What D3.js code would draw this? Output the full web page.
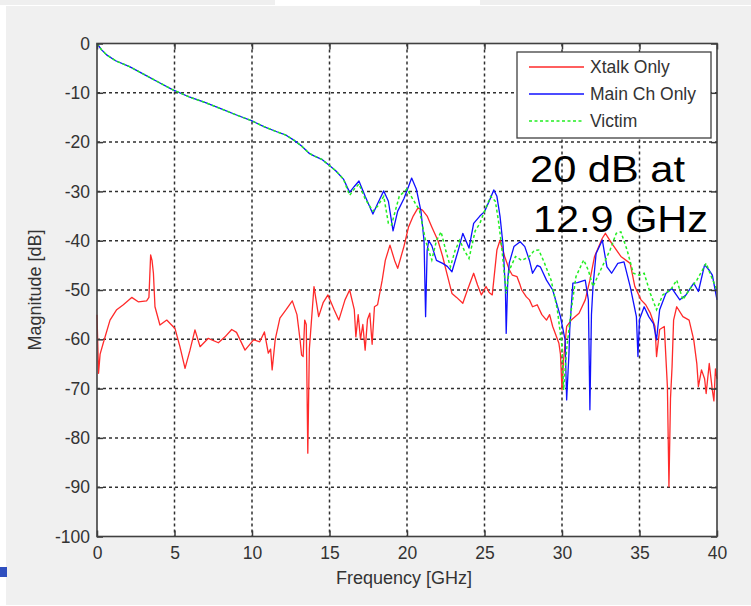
<!DOCTYPE html>
<html>
<head>
<meta charset="utf-8">
<script src="https://cdn.jsdelivr.net/npm/d3@7/dist/d3.min.js"></script>
<style>
  html, body { margin: 0; padding: 0; background: #ffffff; }
  svg { display: block; }
  text { font-family: Arial, "Liberation Sans", sans-serif; }
</style>
</head>
<body>
<svg id="chart" width="751" height="606"></svg>
<script>
// ---------------- data ----------------
const xTicks = [0, 5, 10, 15, 20, 25, 30, 35, 40];
const yTicks = [0, -10, -20, -30, -40, -50, -60, -70, -80, -90, -100];
const seriesNames = ["Xtalk Only", "Main Ch Only", "Victim"];

const xtalkFreq = [0, 0.1, 0.2, 0.4, 0.84, 1.27, 1.7, 2.24, 2.66, 3.2, 3.35, 3.46, 3.55, 3.64, 3.74, 4.06, 4.5, 5.03, 5.35, 5.68, 6, 6.32, 6.65, 7.18, 7.83, 8.26, 8.69, 9, 9.55, 10.1, 10.5, 10.8, 11.05, 11.2, 11.3, 11.5, 11.8, 12.2, 12.6, 12.9, 13.1, 13.2, 13.3, 13.4, 13.5, 13.6, 13.7, 14, 14.3, 14.6, 14.9, 15.3, 15.6, 16, 16.3, 16.6, 16.7, 16.85, 17, 17.15, 17.3, 17.45, 17.6, 17.75, 17.9, 18.1, 18.4, 18.6, 18.9, 19.2, 19.4, 19.8, 20.1, 20.4, 20.7, 21, 21.3, 21.6, 22, 22.3, 22.6, 22.9, 23.2, 23.6, 23.9, 24.3, 24.55, 24.8, 25.1, 25.3, 25.5, 25.8, 26, 26.3, 26.6, 26.8, 27.1, 27.3, 27.4, 27.7, 27.9, 28.1, 28.4, 28.7, 29, 29.2, 29.4, 29.8, 29.9, 30, 30.1, 30.3, 30.6, 31.1, 31.5, 31.8, 32.1, 32.6, 32.8, 33.2, 33.8, 34.4, 34.7, 35.1, 35.4, 35.7, 36, 36.1, 36.3, 36.6, 36.8, 36.9, 37, 37.1, 37.2, 37.4, 37.8, 38.2, 38.5, 38.7, 38.8, 39, 39.2, 39.3, 39.5, 39.7, 39.8, 39.9, 40];
const xtalkDb = [-55, -66.9, -63, -60.8, -56.1, -54, -53, -51.5, -52.4, -52.2, -51.5, -42.9, -44, -46.6, -53.4, -57.1, -56.1, -57.8, -61.5, -65.9, -62.2, -58.1, -61.5, -59.8, -60.7, -59.5, -58, -58.6, -62.2, -60.1, -60.5, -58.5, -62.8, -62, -66.2, -60, -55.7, -54, -52.2, -55, -60.1, -63.2, -63.5, -56.1, -57, -83.1, -62, -49.3, -55.4, -52.5, -51, -54, -56.1, -52, -50, -54, -59.5, -55, -60, -57, -62.2, -56, -54.7, -61, -53.4, -53, -48, -44, -40.9, -44, -45.6, -41.2, -37.2, -35, -33.4, -33.8, -35, -37.2, -40, -43.2, -47, -50.7, -51.5, -52.7, -50, -46.6, -49, -51, -49.3, -50.5, -51, -41.9, -39.9, -43.2, -45.9, -47, -47.3, -49, -50, -51.4, -52, -53.4, -53, -55, -56.1, -55, -57.4, -60.8, -63, -70.3, -64.2, -57.4, -56.1, -54.7, -52, -48, -43.2, -39.5, -38.5, -40.5, -43.2, -44.6, -49.3, -52, -53, -54.7, -57.4, -63.5, -58, -57.4, -69.6, -89.9, -72, -65.6, -56.1, -53.4, -55.4, -56.1, -60.1, -65, -69.6, -66.2, -68, -71, -64.9, -70.3, -72.5, -66, -68];

const mainFreq = [0, 0.3, 0.62, 1.2, 2.1, 3, 4, 4.9, 6, 7, 7.9, 9, 10, 10.8, 11.6, 12.2, 12.7, 13.2, 13.7, 14, 14.5, 14.9, 15.4, 15.9, 16.3, 16.6, 16.9, 17.3, 17.8, 18.1, 18.5, 18.8, 19.1, 19.4, 19.8, 20.1, 20.3, 20.6, 20.9, 21.1, 21.2, 21.3, 21.4, 21.6, 21.9, 22.3, 22.6, 22.9, 23.3, 23.6, 24, 24.3, 24.7, 25, 25.3, 25.6, 25.8, 26, 26.2, 26.35, 26.4, 26.5, 26.6, 26.9, 27.3, 27.6, 27.9, 28.1, 28.4, 28.6, 29, 29.4, 29.9, 30.2, 30.3, 30.45, 30.5, 30.7, 31, 31.5, 31.7, 31.8, 31.9, 32, 32.2, 32.6, 32.9, 33.2, 33.6, 34, 34.4, 34.8, 34.9, 35, 35.3, 35.6, 35.9, 36.1, 36.3, 36.7, 37.1, 37.6, 38, 38.5, 38.8, 39.2, 39.5, 39.7, 40];
const mainDb = [0, -1.3, -2.3, -3.5, -4.7, -6.2, -7.9, -9.4, -10.9, -12, -13.1, -14.5, -15.7, -16.9, -17.9, -18.6, -19.6, -20.8, -22.3, -22.8, -23.5, -24.5, -25.8, -27.5, -30.2, -29, -27.9, -31, -34.6, -32.5, -29.9, -32, -38, -34, -31.5, -29, -27.3, -29.5, -34, -40, -55.4, -42, -40, -41, -44, -44.6, -45.2, -46.3, -42, -38.5, -41.5, -36.5, -35, -34.1, -32, -29.7, -31, -35, -41, -50, -58.8, -48, -44.5, -41.2, -40.2, -41.2, -44, -46.6, -45, -45.3, -48, -50, -55.4, -60.1, -72.3, -62.8, -58, -48.6, -48.5, -48, -52, -74.3, -55, -49.3, -42.6, -39.9, -45.3, -46.6, -44.6, -44.3, -49.3, -55.4, -63.5, -56, -53.4, -55.4, -56.8, -60.1, -54, -50.7, -49.7, -52, -51, -48.6, -50.3, -44.9, -46, -47, -52];

const victimFreq = [0, 0.3, 0.62, 1.2, 2.1, 3, 4, 4.9, 6, 7, 7.9, 9, 10, 10.8, 11.6, 12.2, 12.7, 13.2, 13.7, 14, 14.5, 14.9, 15.4, 15.9, 16.3, 16.6, 16.9, 17.3, 17.8, 18.1, 18.5, 18.8, 19, 19.5, 20, 20.4, 20.8, 21.2, 21.6, 21.9, 22.2, 22.5, 22.8, 23.1, 23.4, 23.7, 24, 24.4, 24.7, 25, 25.4, 25.7, 25.9, 26.1, 26.4, 26.6, 27, 27.4, 27.9, 28.2, 28.5, 28.8, 29.3, 29.7, 30, 30.1, 30.3, 30.6, 30.9, 31.4, 31.7, 32, 32.5, 33.1, 33.5, 33.8, 34.2, 34.6, 35, 35.3, 35.7, 36.1, 36.5, 37, 37.4, 37.8, 38.2, 38.7, 39.3, 39.6, 40];
const victimDb = [0, -1.3, -2.3, -3.5, -4.7, -6.2, -7.9, -9.4, -10.9, -12, -13.1, -14.5, -15.7, -16.9, -17.9, -18.6, -19.6, -20.8, -22.3, -22.8, -23.5, -24.5, -25.8, -27.5, -30.8, -29.5, -28.5, -31.5, -34, -33, -31, -36.5, -36.8, -31, -29.5, -31.7, -33.8, -40, -43.9, -40, -38.2, -42, -45.3, -42, -39.9, -42, -43.6, -38, -36.5, -34, -31, -32, -36, -41, -50.7, -46, -43.2, -44, -43.2, -42, -41.9, -44, -48, -54, -61.5, -70.3, -62, -54, -47.3, -43.9, -46, -49.3, -45.9, -41.9, -38.5, -38.2, -41.9, -46.6, -47, -46.6, -50.7, -54, -51, -50, -48, -52, -50, -48, -44.6, -47, -50];

// ---------------- layout ----------------
const svg = d3.select("#chart");
const x = d3.scaleLinear().domain([0, 40]).range([97, 717]);
const y = d3.scaleLinear().domain([-100, 0]).range([536.5, 43.5]);

// page / figure background
svg.append("rect").attr("x", 0).attr("y", 0).attr("width", 751).attr("height", 606).attr("fill", "#ffffff");
svg.append("rect").attr("x", 0).attr("y", 0).attr("width", 275).attr("height", 5).attr("fill", "#efefef");
svg.append("rect").attr("x", 480).attr("y", 0).attr("width", 271).attr("height", 5).attr("fill", "#efefef");
svg.append("rect").attr("x", 6).attr("y", 6).attr("width", 745).attr("height", 599).attr("fill", "#f0f0f0");
svg.append("rect").attr("x", 0).attr("y", 567).attr("width", 7).attr("height", 10).attr("fill", "#2f4fbf");

// plot area
svg.append("rect").attr("x", x(0)).attr("y", y(0)).attr("width", x(40) - x(0)).attr("height", y(-100) - y(0)).attr("fill", "#ffffff");

// grid
const grid = svg.append("g").attr("stroke", "#303030").attr("stroke-width", 1.5).attr("stroke-dasharray", "3,3").attr("fill", "none");
grid.selectAll("line.v").data(xTicks.slice(1, -1)).join("line").attr("class", "v")
  .attr("x1", d => x(d)).attr("x2", d => x(d)).attr("y1", y(0)).attr("y2", y(-100));
grid.selectAll("line.h").data(yTicks.slice(1, -1)).join("line").attr("class", "h")
  .attr("x1", x(0)).attr("x2", x(40)).attr("y1", d => y(d)).attr("y2", d => y(d));

// series
const line = d3.line().x(d => x(d[0])).y(d => y(d[1]));
const zip = (a, b) => a.map((v, i) => [v, b[i]]);
const plot = svg.append("g");
plot.append("path").datum(zip(xtalkFreq, xtalkDb)).attr("d", line)
  .attr("fill", "none").attr("stroke", "#ff2a2a").attr("stroke-width", 1.3).attr("stroke-linejoin", "round");
plot.append("path").datum(zip(mainFreq, mainDb)).attr("d", line)
  .attr("fill", "none").attr("stroke", "#1010ff").attr("stroke-width", 1.3).attr("stroke-linejoin", "round");
plot.append("path").datum(zip(victimFreq, victimDb)).attr("d", line)
  .attr("fill", "none").attr("stroke", "#22ee22").attr("stroke-width", 1.5).attr("stroke-dasharray", "3,2.5");

// axes (inner ticks, MATLAB box style)
const fmt = d => String(d);
const axisStyle = g => {
  g.select(".domain").remove();
  g.selectAll(".tick line").attr("stroke", "#3a3a3a").attr("stroke-width", 1.5);
  g.selectAll(".tick text").attr("fill", "#333333").attr("font-size", "17.5px");
};
svg.append("g").attr("transform", `translate(0,${y(-100)})`)
  .call(d3.axisBottom(x).tickValues(xTicks).tickSize(-6).tickPadding(10).tickFormat(fmt))
  .call(axisStyle);
svg.append("g").attr("transform", `translate(0,${y(0)})`)
  .call(d3.axisTop(x).tickValues(xTicks).tickSize(-6).tickFormat(""))
  .call(axisStyle);
svg.append("g").attr("transform", `translate(${x(0)},0)`)
  .call(d3.axisLeft(y).tickValues(yTicks).tickSize(-6).tickPadding(7).tickFormat(fmt))
  .call(axisStyle);
svg.append("g").attr("transform", `translate(${x(40)},0)`)
  .call(d3.axisRight(y).tickValues(yTicks).tickSize(-6).tickFormat(""))
  .call(axisStyle);
svg.selectAll("text").attr("font-family", "Arial, 'Liberation Sans', sans-serif");

// frame
svg.append("rect").attr("x", x(0)).attr("y", y(0)).attr("width", x(40) - x(0)).attr("height", y(-100) - y(0))
  .attr("fill", "none").attr("stroke", "#404040").attr("stroke-width", 1.6);

// axis titles
svg.append("text").attr("x", (x(0) + x(40)) / 2 - 3).attr("y", 584).attr("text-anchor", "middle")
  .attr("font-size", "18px").attr("fill", "#333333").text("Frequency [GHz]");
svg.append("text").attr("transform", `translate(41,${(y(0) + y(-100)) / 2}) rotate(-90)`).attr("text-anchor", "middle")
  .attr("font-size", "18px").attr("fill", "#333333").text("Magnitude [dB]");

// legend
const lg = svg.append("g");
lg.append("rect").attr("x", 517).attr("y", 52).attr("width", 194).attr("height", 86)
  .attr("fill", "#ffffff").attr("stroke", "#404040").attr("stroke-width", 1.3);
const legendColors = ["#ff2a2a", "#1010ff", "#22ee22"];
const legendDash = [null, null, "3,2.5"];
seriesNames.forEach((name, i) => {
  const cy = 67 + i * 27;
  lg.append("line").attr("x1", 529).attr("x2", 584).attr("y1", cy).attr("y2", cy)
    .attr("stroke", legendColors[i]).attr("stroke-width", 1.3).attr("stroke-dasharray", legendDash[i]);
  lg.append("text").attr("x", 590).attr("y", cy + 6).attr("font-size", "17.5px").attr("fill", "#333333").text(name);
});

// annotation
svg.append("text").attr("x", 530).attr("y", 182).attr("font-size", "37px").attr("fill", "#000000")
  .attr("textLength", 155).attr("lengthAdjust", "spacingAndGlyphs").text("20 dB at");
svg.append("text").attr("x", 533).attr("y", 232).attr("font-size", "37px").attr("fill", "#000000")
  .attr("textLength", 175).attr("lengthAdjust", "spacingAndGlyphs").text("12.9 GHz");
</script>
</body>
</html>
